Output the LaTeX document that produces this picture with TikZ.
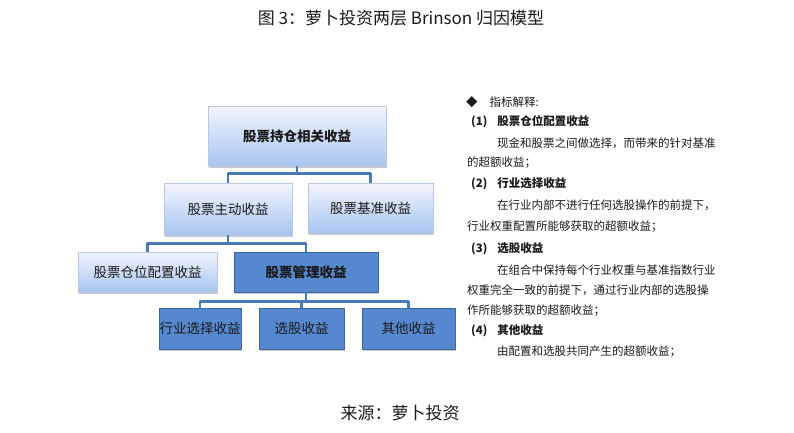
\documentclass[tikz,border=0pt]{standalone}
\usepackage{fontspec}
\setmainfont{Noto Sans CJK SC}
\usepackage{xcolor}
\usepackage{tikz}
\usetikzlibrary{arrows.meta,positioning,calc,shadows}
\definecolor{linkblue}{HTML}{4A7BB7}
\definecolor{lightedge}{HTML}{B9C8E0}
\definecolor{lighttop}{HTML}{F2F6FD}
\definecolor{lightbot}{HTML}{A8C4F0}
\definecolor{darkfill}{HTML}{5588CF}
\definecolor{darkedge}{HTML}{3D679F}
\definecolor{ink}{HTML}{1A1A1A}
\tikzset{
    every picture/.style={line cap=round,line join=round},
    lightbox/.style={draw=lightedge,line width=0.6pt,top color=lighttop,bottom color=lightbot,
      drop shadow={shadow xshift=1.2pt,shadow yshift=-1.5pt,fill=black!35,opacity=0.6},
      inner sep=2pt,font=\fontsize{13.5}{16}\selectfont,text=ink,align=center},
    darkbox/.style={draw=darkedge,line width=0.8pt,fill=darkfill,
      drop shadow={shadow xshift=1.2pt,shadow yshift=-1.5pt,fill=black!35,opacity=0.6},
      inner sep=2pt,font=\fontsize{13.5}{16}\selectfont,text=ink,align=center},
    link/.style={draw=linkblue,line width=2.6pt,line cap=butt},
    note/.style={anchor=west,inner sep=0pt,font=\fontsize{11.5}{13}\selectfont,text=ink},
    notehead/.style={note,font=\fontsize{11.5}{13}\selectfont\bfseries}
}
\begin{document}
\begin{tikzpicture}[x=1pt,y=-1pt]
  \useasboundingbox (0,0) rectangle (794,432);
  % title and source
  \node[font=\fontsize{17}{20}\selectfont,text=ink] (title) at (401,18) {图 3：萝卜投资两层 Brinson 归因模型};
  \node[font=\fontsize{17}{20}\selectfont,text=ink] (source) at (400,413) {来源：萝卜投资};
  % tree
  \node[lightbox,font=\fontsize{13.5}{16}\selectfont\bfseries,minimum width=178pt,minimum height=60pt] (hold) at (297,136) {股票持仓相关收益};
  \node[lightbox,minimum width=128pt,minimum height=52pt] (active) at (228,209) {股票主动收益};
  \node[lightbox,minimum width=125pt,minimum height=50pt] (bench) at (370.5,208) {股票基准收益};
  \node[lightbox,minimum width=139pt,minimum height=40pt] (alloc) at (147.5,272) {股票仓位配置收益};
  \node[darkbox,font=\fontsize{13.5}{16}\selectfont\bfseries,minimum width=144pt,minimum height=40pt] (manage) at (306,272) {股票管理收益};
  \node[darkbox,inner sep=0pt,minimum width=82pt,minimum height=41pt] (sector) at (200,328.5) {行业选择收益};
  \node[darkbox,minimum width=85pt,minimum height=41pt] (stock) at (301.5,328.5) {选股收益};
  \node[darkbox,minimum width=93pt,minimum height=41pt] (other) at (408.5,328.5) {其他收益};
  \draw[link] (hold.south) -- ++(0,7) -| (active.north);
  \draw[link] (hold.south) -- ++(0,7) -| (bench.north);
  \draw[link] (active.south) -- ++(0,8) -| (alloc.north);
  \draw[link] (active.south) -- ++(0,8) -| (manage.north);
  \draw[link] (manage.south) -- ++(0,9) -| (sector.north);
  \draw[link] (manage.south) -- ++(0,9) -| (stock.north);
  \draw[link] (manage.south) -- ++(0,9) -| (other.north);
  % notes
  \node[note] (n0) at (466,102) {◆\hspace{12pt}指标解释:};
  \node[notehead] (n1) at (471,122) {(1)\hspace{10pt}股票仓位配置收益};
  \node[note] (n2) at (497,143) {现金和股票之间做选择，而带来的针对基准};
  \node[note] (n3) at (467,163) {的超额收益；};
  \node[notehead] (n4) at (471,184) {(2)\hspace{10pt}行业选择收益};
  \node[note] (n5) at (497,205) {在行业内部不进行任何选股操作的前提下，};
  \node[note] (n6) at (467,227) {行业权重配置所能够获取的超额收益；};
  \node[notehead] (n7) at (471,249) {(3)\hspace{10pt}选股收益};
  \node[note] (n8) at (497,270) {在组合中保持每个行业权重与基准指数行业};
  \node[note] (n9) at (467,290) {权重完全一致的前提下，通过行业内部的选股操};
  \node[note] (n10) at (467,311) {作所能够获取的超额收益；};
  \node[notehead] (n11) at (471,331) {(4)\hspace{10pt}其他收益};
  \node[note] (n12) at (497,352) {由配置和选股共同产生的超额收益；};
\end{tikzpicture}
\end{document}
